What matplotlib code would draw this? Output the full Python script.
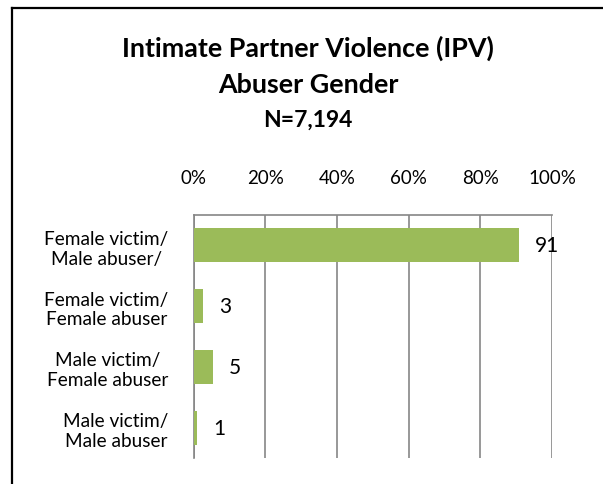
import matplotlib.pyplot as plt
from matplotlib.lines import Line2D
from matplotlib.ticker import FuncFormatter, MultipleLocator

plt.rcParams["font.family"] = ["Lato", "DejaVu Sans"]

# data, top to bottom as shown
categories = [
    "Female victim/\nMale abuser/",
    "Female victim/\nFemale abuser",
    "Male victim/\nFemale abuser",
    "Male victim/\nMale abuser",
]
percent = [90.8, 2.7, 5.4, 1.1]
title_lines = ["Intimate Partner Violence (IPV)", "Abuser Gender", "N=7,194"]

BAR_COLOR = "#9BBB59"
GRID_COLOR = "#868686"

W, H = 603, 485
fig = plt.figure(figsize=(W / 100, H / 100), dpi=100)
ax = fig.add_axes([193.5 / W, 1 - 459 / H, (552 - 193.5) / W, (459 - 216) / H])

ypos = list(range(len(categories)))
ax.barh(ypos, percent, height=0.56, color=BAR_COLOR, zorder=3)
ax.set_ylim(len(categories) - 0.5, -0.5)
ax.set_xlim(0, 100)

for y, v in zip(ypos, percent):
    ax.text(v + 4.5, y, f"{v:.0f}", va="center", ha="left", fontsize=15,
            color="black", zorder=4)

ax.xaxis.set_major_locator(MultipleLocator(20))
ax.xaxis.set_major_formatter(FuncFormatter(lambda x, _: f"{x:.0f}%"))
ax.xaxis.tick_top()
ax.tick_params(axis="x", length=0, pad=21, labelsize=13.5)
ax.tick_params(axis="y", length=0, pad=18, labelsize=13.7)
ax.set_yticks(ypos)
ax.set_yticklabels(categories, ha="right", multialignment="center",
                   linespacing=1.2)

ax.grid(axis="x", color=GRID_COLOR, lw=1.2, zorder=1)
for side in ("bottom", "right"):
    ax.spines[side].set_visible(False)
for side in ("top", "left"):
    ax.spines[side].set_color(GRID_COLOR)
    ax.spines[side].set_linewidth(1.2)

# title block
fig.text(308 / W, 1 - 57 / H, title_lines[0], ha="center", va="baseline",
         fontsize=19.4, fontweight="bold")
fig.text(308 / W, 1 - 93 / H, title_lines[1], ha="center", va="baseline",
         fontsize=19.4, fontweight="bold")
fig.text(308 / W, 1 - 127 / H, title_lines[2], ha="center", va="baseline",
         fontsize=16.5, fontweight="bold")

# outer chart frame (left and top edges visible)
fig.add_artist(Line2D([12.3 / W, 12.3 / W], [-0.01, 1 - 9 / H], color="black",
                      lw=1.6, transform=fig.transFigure))
fig.add_artist(Line2D([12.3 / W, 1.01], [1 - 9 / H, 1 - 9 / H], color="black",
                      lw=1.6, transform=fig.transFigure))

fig.savefig("out.png", dpi=100)
